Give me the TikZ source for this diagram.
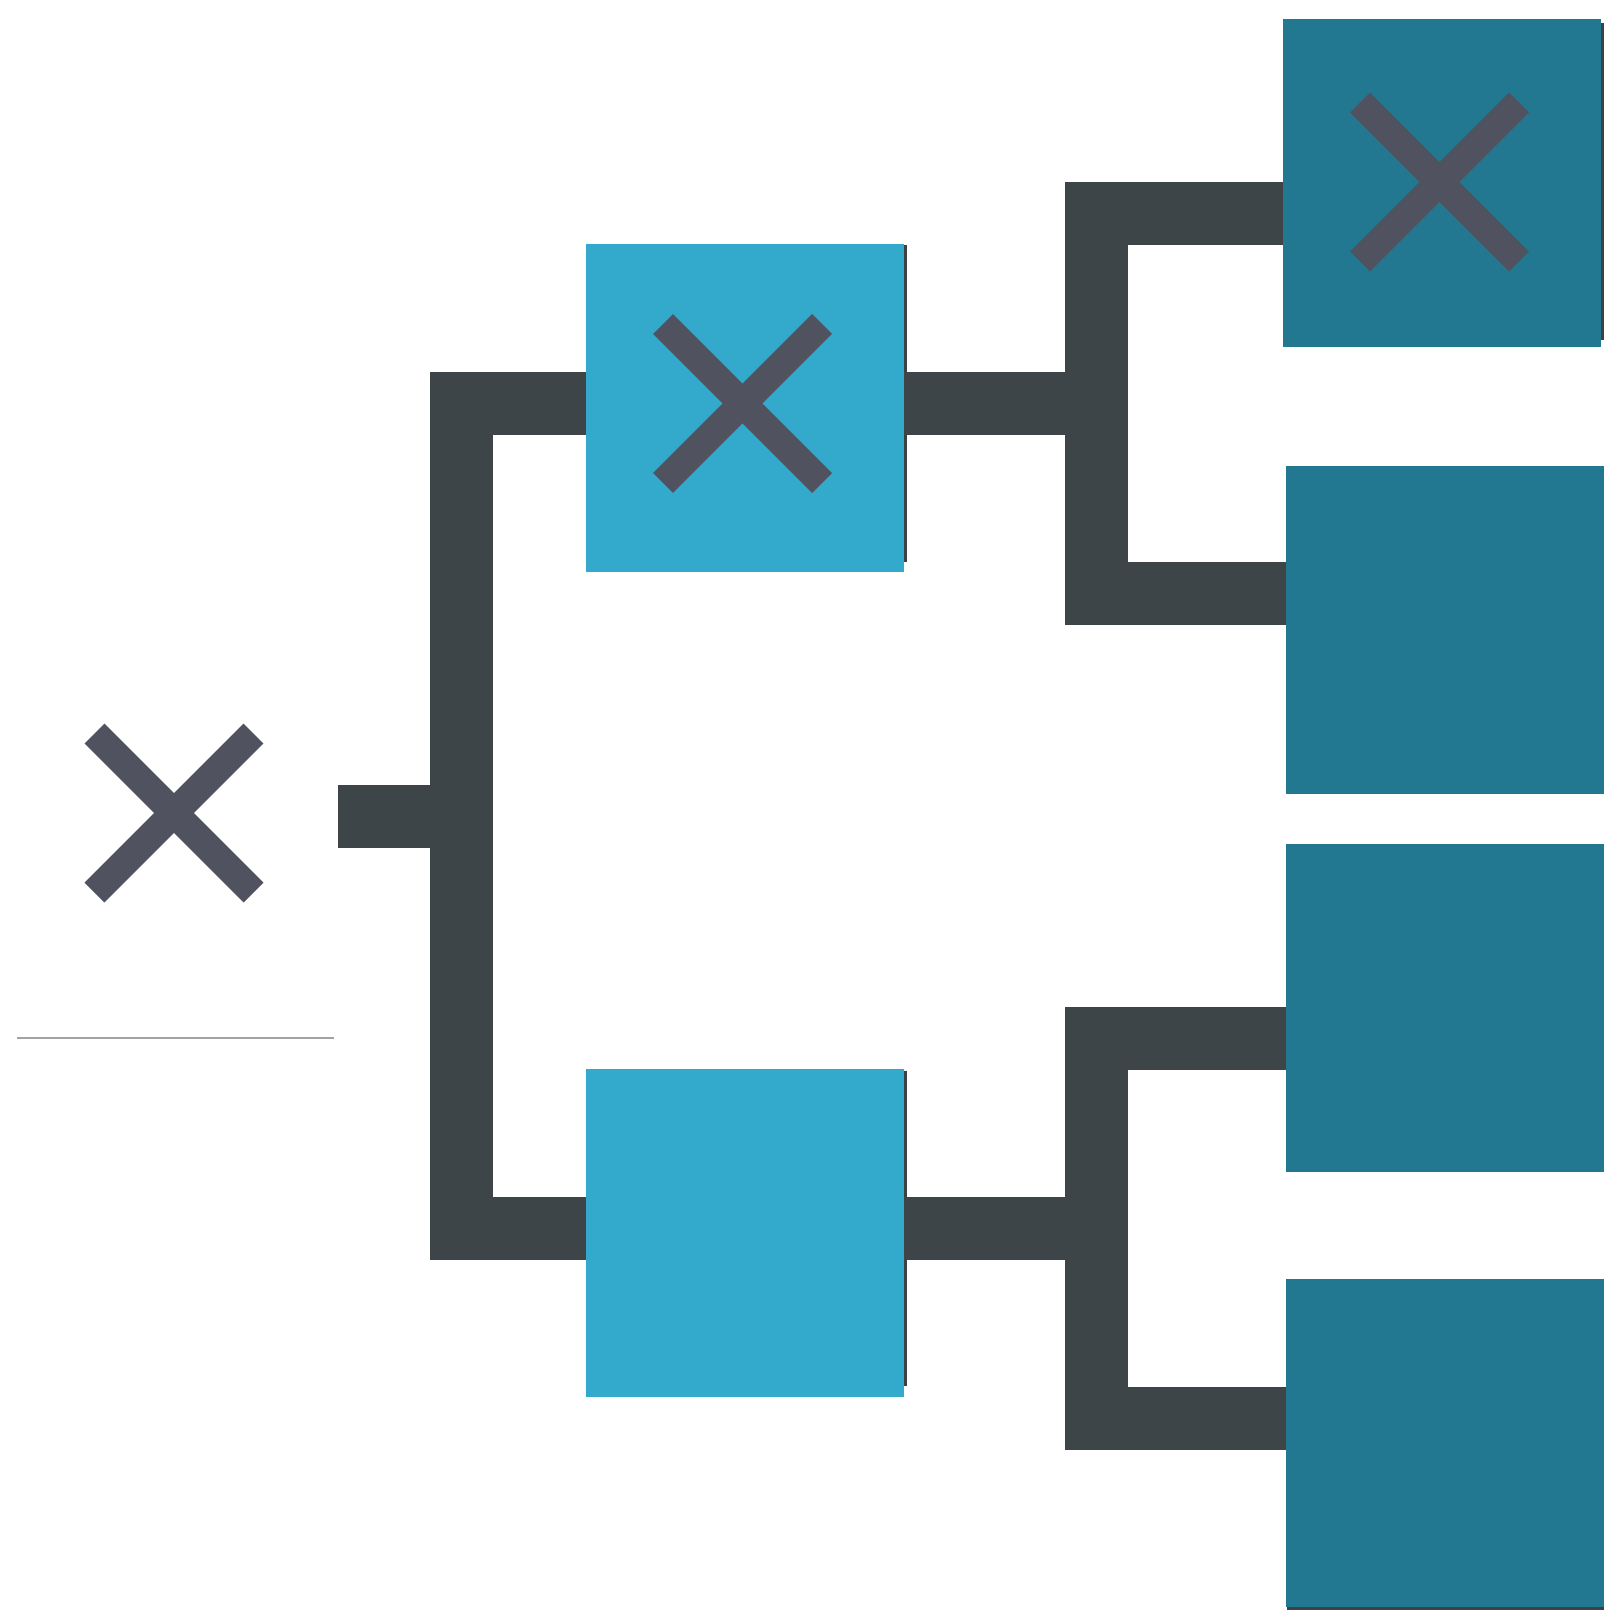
\documentclass[tikz,border=0pt]{standalone}
\definecolor{barcol}{HTML}{3D4548}
\definecolor{xcol}{HTML}{50535F}
\definecolor{lightbox}{HTML}{33A9CC}
\definecolor{darkbox}{HTML}{237891}
\definecolor{edgecol}{HTML}{3A4245}
\definecolor{rulecol}{HTML}{A3A3A3}
\begin{document}
\begin{tikzpicture}[x=1pt,y=-1pt,
  bar/.style={draw=barcol,line width=63pt,line join=miter},
  box/.style={rectangle,inner sep=0pt,outer sep=0pt,minimum width=318pt,minimum height=328pt,draw=none},
  lbox/.style={box,fill=lightbox},
  dbox/.style={box,fill=darkbox},
  cross/.style={draw=xcol,line width=28pt},
  edge/.style={fill=edgecol}]
\useasboundingbox (0,0) rectangle (1621,1620);
\fill[white] (0,0) rectangle (1621,1620);

% shadow edges
\fill[edge] (903,245) rectangle (906.5,562);
\fill[edge] (903,1071) rectangle (906.5,1386);
\fill[edge] (1599,23) rectangle (1604,340);
\fill[edge] (1287,1604) rectangle (1604,1610);

% boxes
\node[lbox] (mt) at (745,408) {};
\node[lbox] (mb) at (745,1233) {};
\node[dbox] (r1) at (1441.5,183) {};
\node[dbox] (r2) at (1444.5,630) {};
\node[dbox] (r3) at (1444.5,1008) {};
\node[dbox] (r4) at (1444.5,1442.5) {};

% helper coordinates
\coordinate (in) at (338,816);
\coordinate (vl) at (461,816);
\coordinate (vr) at (1096.5,0);
\coordinate (yA) at (0,403.5);
\coordinate (yB) at (0,1228.5);
\coordinate (y1) at (0,213);
\coordinate (y2) at (0,593);
\coordinate (y3) at (0,1038);
\coordinate (y4) at (0,1418.5);

% connectors
\draw[bar] (in) -- (vl);
\draw[bar] (mt.west |- yA) -- (vl |- yA) -- (vl |- yB) -- (mb.west |- yB);
\draw[bar] (mt.east |- yA) -- (vr |- yA);
\draw[bar] (r1.west |- y1) -- (vr |- y1) -- (vr |- y2) -- (r2.west |- y2);
\draw[bar] (mb.east |- yB) -- (vr |- yB);
\draw[bar] (r3.west |- y3) -- (vr |- y3) -- (vr |- y4) -- (r4.west |- y4);

% crosses
\coordinate (xl) at (174,813);
\coordinate (xm) at (742.5,403.5);
\coordinate (xr) at (1439.5,182);
\foreach \c in {xl,xm,xr}{
  \draw[cross] (\c) ++(-79.5,-79.5) -- ++(159,159);
  \draw[cross] (\c) ++(-79.5,79.5) -- ++(159,-159);
}

% thin rule
\draw[rulecol,line width=1.5pt] (17,1038) -- (334,1038);
\end{tikzpicture}
\end{document}
